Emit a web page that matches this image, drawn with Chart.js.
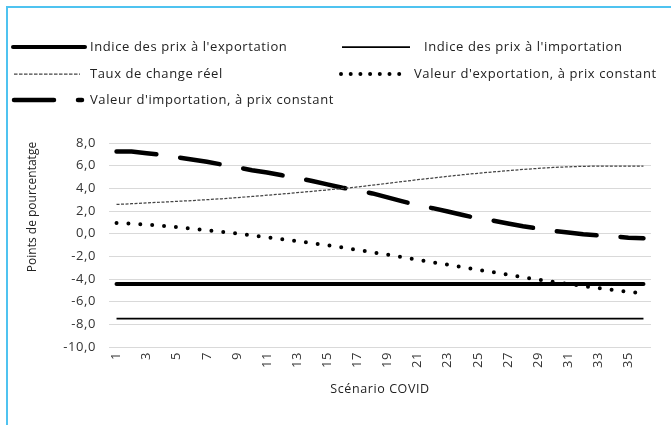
<!DOCTYPE html>
<html>
<head>
<meta charset="utf-8">
<script src="https://cdn.jsdelivr.net/npm/chart.js@4.4.1/dist/chart.umd.min.js"></script>
<style>
  html, body { margin: 0; padding: 0; background: #fff; }
  #wrap { position: relative; width: 671px; height: 425px; overflow: hidden; }
  #frame { position: absolute; left: 6px; top: 6px; right: -10px; bottom: -10px;
           border-left: 2px solid #4fc3f0; border-top: 2px solid #4fc3f0; }
  canvas { position: absolute; left: 0; top: 0; }
</style>
</head>
<body>
<div id="wrap">
  <div id="frame"></div>
  <canvas id="chart" width="671" height="425"></canvas>
</div>
<script>
// Scenario numbers on the x axis
const scenarios = ['1', '2', '3', '4', '5', '6', '7', '8', '9', '10', '11', '12',
    '13', '14', '15', '16', '17', '18', '19', '20', '21', '22', '23', '24',
    '25', '26', '27', '28', '29', '30', '31', '32', '33', '34', '35', '36'];
// Only every other label is printed
const shownScenarioLabels = ['1', '3', '5', '7', '9', '11', '13', '15', '17',
    '19', '21', '23', '25', '27', '29', '31', '33', '35'];
const yTickValues = [-10, -8, -6, -4, -2, 0, 2, 4, 6, 8];

const seriesNames = [
    "Indice des prix à l'exportation",
    "Indice des prix à l'importation",
    "Taux de change réel",
    "Valeur d'exportation, à prix constant",
    "Valeur d'importation, à prix constant"
];

const exportPriceIndex = [-4.45, -4.45, -4.45, -4.45, -4.45, -4.45, -4.45, -4.45, -4.45,
    -4.45, -4.45, -4.45, -4.45, -4.45, -4.45, -4.45, -4.45, -4.45, -4.45, -4.45, -4.45,
    -4.45, -4.45, -4.45, -4.45, -4.45, -4.45, -4.45, -4.45, -4.45, -4.45, -4.45, -4.45,
    -4.45, -4.45, -4.45];
const importPriceIndex = [-7.5, -7.5, -7.5, -7.5, -7.5, -7.5, -7.5, -7.5, -7.5,
    -7.5, -7.5, -7.5, -7.5, -7.5, -7.5, -7.5, -7.5, -7.5, -7.5, -7.5, -7.5,
    -7.5, -7.5, -7.5, -7.5, -7.5, -7.5, -7.5, -7.5, -7.5, -7.5, -7.5, -7.5,
    -7.5, -7.5, -7.5];
const realExchangeRate = [2.58, 2.64, 2.71, 2.78, 2.85, 2.92, 3.0, 3.08, 3.18, 3.28,
    3.39, 3.5, 3.62, 3.74, 3.86, 3.98, 4.12, 4.28, 4.44, 4.6, 4.76, 4.91, 5.06, 5.2,
    5.33, 5.45, 5.56, 5.67, 5.76, 5.84, 5.9, 5.94, 5.96, 5.97, 5.97, 5.96];
const exportValue = [0.94, 0.88, 0.8, 0.7, 0.57, 0.44, 0.31, 0.17, 0.02, -0.15,
    -0.32, -0.49, -0.66, -0.84, -1.02, -1.22, -1.43, -1.64, -1.86, -2.08, -2.3,
    -2.52, -2.74, -2.96, -3.18, -3.4, -3.62, -3.84, -4.05, -4.25, -4.44, -4.62,
    -4.8, -4.97, -5.13, -5.28];
const importValue = [7.25, 7.25, 7.1, 6.95, 6.75, 6.55, 6.35, 6.1, 5.85, 5.6,
    5.4, 5.15, 4.9, 4.65, 4.35, 4.05, 3.8, 3.55, 3.2, 2.85, 2.5, 2.25, 1.95, 1.65,
    1.35, 1.15, 0.9, 0.65, 0.45, 0.25, 0.1, -0.05, -0.15, -0.25, -0.35, -0.4];

const FONT = '"Open Sans", "Noto Sans", sans-serif';
const SPACING = '0.6px';

// Where each legend entry goes (two columns, Excel style)
const legendSlots = [
    { x0: 13, x1: 85, tx: 90, y: 47 },
    { x0: 342, x1: 410, tx: 424, y: 47 },
    { x0: 14, x1: 80, tx: 90, y: 74 },
    { x0: 341, x1: 400, tx: 414, y: 74 },
    { x0: 14, x1: 82, tx: 90, y: 100 }
];

// the reference font is a wide one, so space the letters a bit
const letterSpacing = {
    id: 'letterSpacing',
    beforeUpdate(chart) { chart.ctx.letterSpacing = SPACING; },
    beforeDraw(chart) { chart.ctx.letterSpacing = SPACING; }
};

const customLegend = {
    id: 'customLegend',
    afterDraw(chart) {
        const ctx = chart.ctx;
        ctx.save();
        ctx.letterSpacing = SPACING;
        chart.data.datasets.forEach((ds, i) => {
            const s = legendSlots[i];
            ctx.beginPath();
            ctx.strokeStyle = ds.borderColor;
            ctx.lineWidth = ds.borderWidth;
            ctx.lineCap = ds.borderCapStyle || 'butt';
            ctx.setLineDash(ds.legendDash || ds.borderDash || []);
            ctx.moveTo(s.x0, s.y);
            ctx.lineTo(s.x1, s.y);
            ctx.stroke();
            ctx.setLineDash([]);
            ctx.fillStyle = '#222';
            ctx.font = '13px ' + FONT;
            ctx.textBaseline = 'middle';
            ctx.textAlign = 'left';
            ctx.fillText(ds.label, s.tx, s.y);
        });
        // y axis title
        ctx.translate(33, 207);
        ctx.rotate(-Math.PI / 2);
        ctx.font = '12px ' + FONT;
        ctx.letterSpacing = '0px';
        ctx.fillStyle = '#222';
        ctx.textAlign = 'center';
        ctx.textBaseline = 'middle';
        ctx.fillText('Points de pourcentatge', 0, 0);
        ctx.restore();
    }
};

new Chart(document.getElementById('chart'), {
    type: 'line',
    data: {
        labels: scenarios,
        datasets: [
            {
                label: seriesNames[0], data: exportPriceIndex,
                borderColor: '#000', borderWidth: 4, borderCapStyle: 'round'
            },
            {
                label: seriesNames[1], data: importPriceIndex,
                borderColor: '#000', borderWidth: 1.75
            },
            {
                label: seriesNames[2], data: realExchangeRate,
                borderColor: '#444', borderWidth: 1.25, borderDash: [3, 1.5],
                legendDash: [3.5, 1.5]
            },
            {
                label: seriesNames[3], data: exportValue,
                borderColor: '#000', borderWidth: 4, borderCapStyle: 'round',
                borderDash: [0, 11.9], legendDash: [0, 9.7]
            },
            {
                label: seriesNames[4], data: importValue,
                borderColor: '#000', borderWidth: 4.5, borderCapStyle: 'round',
                borderDash: [40, 24]
            }
        ]
    },
    options: {
        responsive: false,
        animation: false,
        devicePixelRatio: 1,
        layout: { padding: { left: 20, right: 20, top: 143, bottom: 20 } },
        elements: { point: { radius: 0, hoverRadius: 0 }, line: { tension: 0 } },
        plugins: {
            legend: { display: false },
            tooltip: { enabled: false }
        },
        scales: {
            x: {
                offset: true,
                grid: { display: false, drawTicks: false },
                border: { display: false },
                afterFit(scale) { scale.height = 58; },
                ticks: {
                    autoSkip: false,
                    minRotation: 90,
                    maxRotation: 90,
                    padding: 5,
                    color: '#333',
                    font: { family: FONT, size: 13 },
                    callback(value) {
                        const lbl = this.getLabelForValue(value);
                        return shownScenarioLabels.includes(lbl) ? lbl : '';
                    }
                },
                title: {
                    display: true,
                    text: 'Scénario COVID',
                    color: '#222',
                    font: { family: FONT, size: 12.5 },
                    padding: { top: 4, bottom: 8 }
                }
            },
            y: {
                min: -10,
                max: 8,
                afterFit(scale) { scale.width = 89; },
                afterBuildTicks(scale) {
                    scale.ticks = yTickValues.map(v => ({ value: v }));
                },
                grid: { color: '#d9d9d9', lineWidth: 1, drawTicks: false },
                border: { display: false },
                ticks: {
                    padding: 13,
                    color: '#333',
                    font: { family: FONT, size: 13 },
                    callback: v => v.toFixed(1).replace('.', ',')
                }
            }
        }
    },
    plugins: [letterSpacing, customLegend]
});
</script>
</body>
</html>
